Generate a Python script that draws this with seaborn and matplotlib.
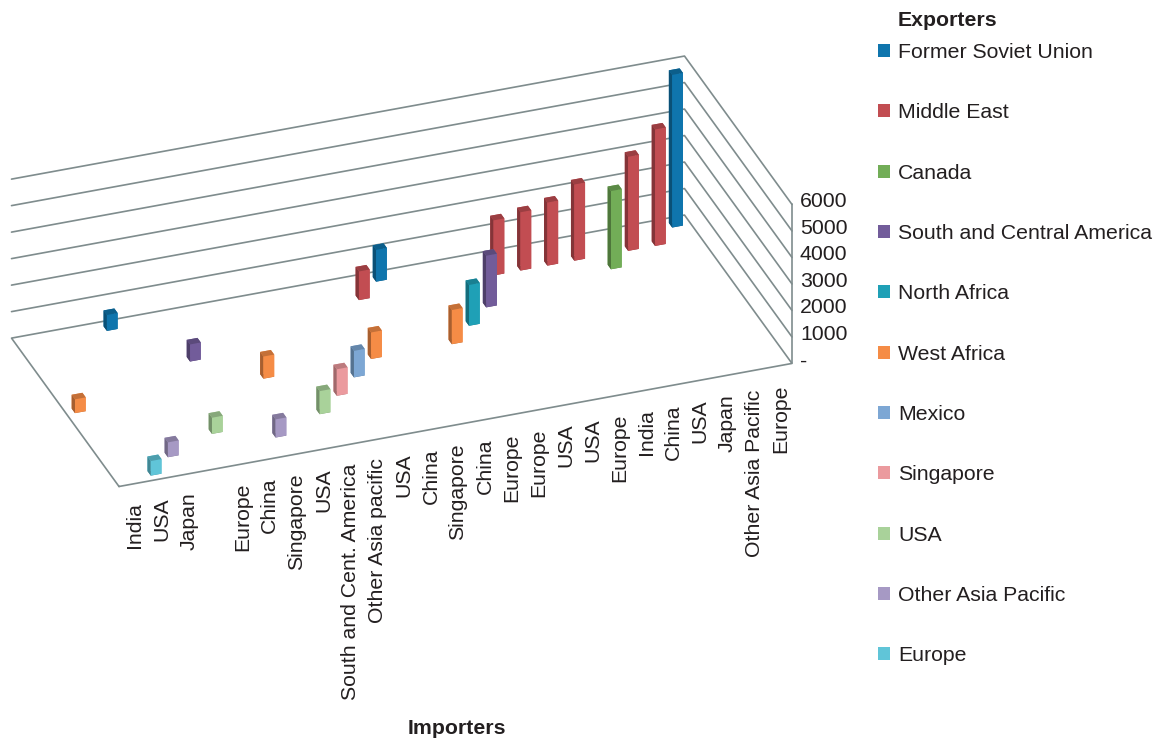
import numpy as np
import matplotlib
matplotlib.use("Agg")
import matplotlib.pyplot as plt
from matplotlib.patches import Patch
from mpl_toolkits.mplot3d import proj3d
import seaborn as sns

# Exporting regions, listed from the back row of the chart to the front row
exporters = ["Former Soviet Union", "Middle East", "Canada",
             "South and Central America", "North Africa", "West Africa",
             "Mexico", "Singapore", "USA", "Other Asia Pacific", "Europe"]
exporter_colors = ["#0F75AD", "#C24D52", "#72AD57", "#725C9A", "#1FA0B6",
                   "#F58C46", "#7DA7D4", "#EB9A9E", "#A9D29A", "#A699C4",
                   "#60C5D8"]

# One trade flow per importer slot (an empty label leaves an unnamed slot)
importers = ["India", "USA", "Japan", "", "Europe", "China", "Singapore",
             "USA", "South and Cent. America", "Other Asia pacific", "USA",
             "China", "Singapore", "China", "Europe", "Europe", "USA", "USA",
             "Europe", "India", "China", "USA", "Japan", "Other Asia Pacific",
             "Europe"]
flow_exporter = ["West Africa", "Europe", "Other Asia Pacific",
                 "Former Soviet Union", "USA", "South and Central America",
                 "Other Asia Pacific", "West Africa", "USA", "Singapore",
                 "Mexico", "West Africa", "Middle East", "Former Soviet Union",
                 "West Africa", "North Africa", "South and Central America",
                 "Middle East", "Middle East", "Middle East", "Middle East",
                 "Canada", "Middle East", "Middle East", "Former Soviet Union"]
flow_value = [520, 550, 560, 600, 610, 645, 685, 835, 870, 1000, 1000, 1000,
              1080, 1200, 1290, 1540, 1950, 2080, 2200, 2380, 2875, 2950,
              3550, 4395, 5760]
value_ticks = [0, 1000, 2000, 3000, 4000, 5000, 6000]
value_tick_labels = ["-", "1000", "2000", "3000", "4000", "5000", "6000"]

sns.set_theme(style="white")
plt.rcParams["font.family"] = ["Liberation Sans", "DejaVu Sans"]
palette = sns.color_palette(exporter_colors)

W, H = 1157, 741
FONT = 15.3
INK = "#231F20"
GRID = "#7F8C8D"
fig = plt.figure(figsize=(W / 100, H / 100), dpi=100, facecolor="white")
ax = fig.add_axes([0, 0, 1, 1], projection="3d", proj_type="ortho",
                  computed_zorder=False)
ax.set_axis_off()
ax.view_init(elev=30.16, azim=-110.0, roll=0)

n_cat, n_row = len(importers), len(exporters)
ax.set_xlim(0, n_cat)
ax.set_ylim(0, n_row)
ax.set_zlim(0, value_ticks[-1])
aspect = (716.2, 314.3, 183.9)
ax.set_box_aspect(aspect, zoom=1.0)


def pixel(x, y, z):
    px, py, _ = proj3d.proj_transform(x, y, z, ax.get_proj())
    return ax.transData.transform((px, py))


def data_xy(x, y, z):
    return tuple(ax.transData.inverted().transform(pixel(x, y, z)))


# Scale and place the projected box so the floor sits where the layout wants it
fig.canvas.draw()
span = np.linalg.norm(pixel(n_cat, 0, 0) - pixel(0, 0, 0))
ax.set_box_aspect(aspect, zoom=np.hypot(673, 123) / span)
fig.canvas.draw()
origin = pixel(0, 0, 0)
ax.set_position([(119 - origin[0]) / W, ((H - 486.5) - origin[1]) / H, 1, 1])
fig.canvas.draw()

# Floor outline, back wall and right wall (no left wall)
line_kw = dict(color=GRID, lw=1.2, zorder=1, clip_on=False,
               solid_capstyle="round")
ax.plot([0, n_cat, n_cat, 0, 0], [0, 0, n_row, n_row, 0], [0] * 5, **line_kw)
for v in value_ticks[1:]:
    ax.plot([0, n_cat, n_cat], [n_row, n_row, 0], [v] * 3, **line_kw)
ax.plot([n_cat, n_cat], [0, 0], [0, value_ticks[-1]], **line_kw)

# Bars: each gets a base colour on the front, darker shades on top and side
bar_w, bar_d = 0.40, 0.34
rows = np.array([n_row - 1 - exporters.index(e) for e in flow_exporter])
cats = np.arange(n_cat)
face_colors = []
for e in flow_exporter:
    c = np.array(palette[exporters.index(e)])
    # face order: bottom, top, front, back, left, right
    face_colors += [c * 0.7, c * 0.8, c, c, c * 0.68, c]
bars = ax.bar3d(cats + 0.5 - bar_w / 2, rows + 0.5 - bar_d / 2,
                np.zeros(n_cat), bar_w, bar_d, flow_value,
                color=face_colors, shade=False, zorder=2,
                edgecolor="none", linewidth=0)
bars.set_clip_on(False)

# Importer names below the front edge of the floor
for i, name in enumerate(importers):
    ax.annotate(name, xy=data_xy(i + 0.5, 0, 0), xytext=(2.5, -18.5),
                textcoords="offset pixels", rotation=90, ha="center", va="top",
                fontsize=FONT, color=INK, annotation_clip=False)

# Value axis labels next to the right wall
for v, lab in zip(value_ticks, value_tick_labels):
    ax.annotate(lab, xy=data_xy(n_cat, 0, v), xytext=(8, 2.5),
                textcoords="offset pixels", ha="left", va="center",
                fontsize=FONT, color=INK, annotation_clip=False)

fig.text(457 / W, 1 - 729 / H, "Importers", fontsize=FONT, fontweight="bold",
         color=INK, ha="center", va="center")
fig.text(898 / W, 1 - 20.5 / H, "Exporters", fontsize=FONT, fontweight="bold",
         color=INK, ha="left", va="center")

handles = [Patch(facecolor=palette[i], edgecolor="none", label=name)
           for i, name in enumerate(exporters)]
fig.legend(handles=handles, loc="upper left", frameon=False,
           bbox_to_anchor=(878 / W, 1 - 43 / H), borderpad=0, borderaxespad=0,
           handlelength=0.57, handleheight=0.57, handletextpad=0.38,
           labelspacing=1.945, fontsize=FONT, labelcolor=INK)

fig.savefig("out.png", dpi=100)
